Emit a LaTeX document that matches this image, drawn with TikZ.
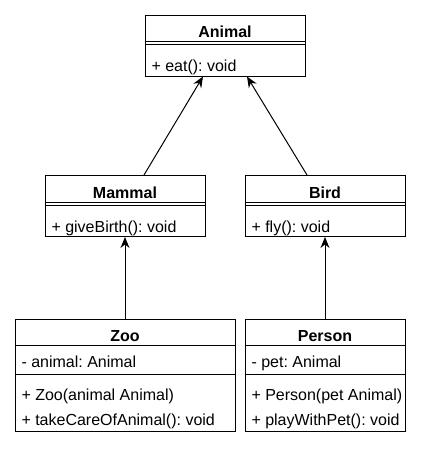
\documentclass[tikz,border=0pt]{standalone}
\usepackage{fontspec}
\setmainfont{Liberation Sans}
\usetikzlibrary{arrows.meta}
\frenchspacing
\begin{document}
\begin{tikzpicture}
  [x=1pt,y=-1pt,line width=1pt,
   every node/.style={font=\fontsize{16}{19}\selectfont,inner sep=0pt},
   classbox/.style={draw,minimum width=160pt,minimum height=61pt},
   title/.style={anchor=base,font=\fontsize{16}{19}\selectfont\bfseries},
   member/.style={anchor=base west}]
  \useasboundingbox (0,0) rectangle (422,450);

  \node[classbox] (animal) at (225,45.5) {};
  \node[classbox] (mammal) at (125,206) {};
  \node[classbox] (bird) at (325,206) {};
  \node[classbox,minimum width=220pt,minimum height=112pt] (zoo) at (125,375) {};
  \node[classbox,minimum height=112pt] (person) at (325,375) {};

  % class names
  \node[title] (animalname) at (225,37) {Animal};
  \node[title] (mammalname) at (125,198) {Mammal};
  \node[title] (birdname) at (325,198) {Bird};
  \node[title] (zooname) at (125,341) {Zoo};
  \node[title] (personname) at (325,341) {Person};

  % separators
  \foreach \c in {animal,mammal,bird}
    \draw ([yshift=-27pt]\c.north west) -- ([yshift=-27pt]\c.north east)
          ([yshift=-30pt]\c.north west) -- ([yshift=-30pt]\c.north east);
  \foreach \c in {zoo,person}
    \draw ([yshift=-27pt]\c.north west) -- ([yshift=-27pt]\c.north east)
          ([yshift=-56pt]\c.north west) -- ([yshift=-56pt]\c.north east);

  % members
  \node[member] (eat) at (151,71) {+ eat(): void};
  \node[member] (givebirth) at (51,232) {+ giveBirth(): void};
  \node[member] (fly) at (251,232) {+ fly(): void};
  \node[member] (zooanimal) at (21,367) {- animal: Animal};
  \node[member] (zooinit) at (21,400) {+ Zoo(animal Animal)};
  \node[member] (takecare) at (21,425) {+ takeCareOfAnimal(): void};
  \node[member] (personpet) at (251,367) {- pet: Animal};
  \node[member] (personinit) at (251,400) {+ Person(pet Animal)};
  \node[member] (playwith) at (251,425) {+ playWithPet(): void};

\path[-{Stealth[length=11pt,width=9pt]}]
    ([xshift=19pt]mammal.north) edge ([xshift=-22pt]animal.south)
    ([xshift=-18pt]bird.north) edge ([xshift=22pt]animal.south)
    (zoo.north) edge (mammal.south)
    (person.north) edge (bird.south)
    ;

\end{tikzpicture}
\end{document}
